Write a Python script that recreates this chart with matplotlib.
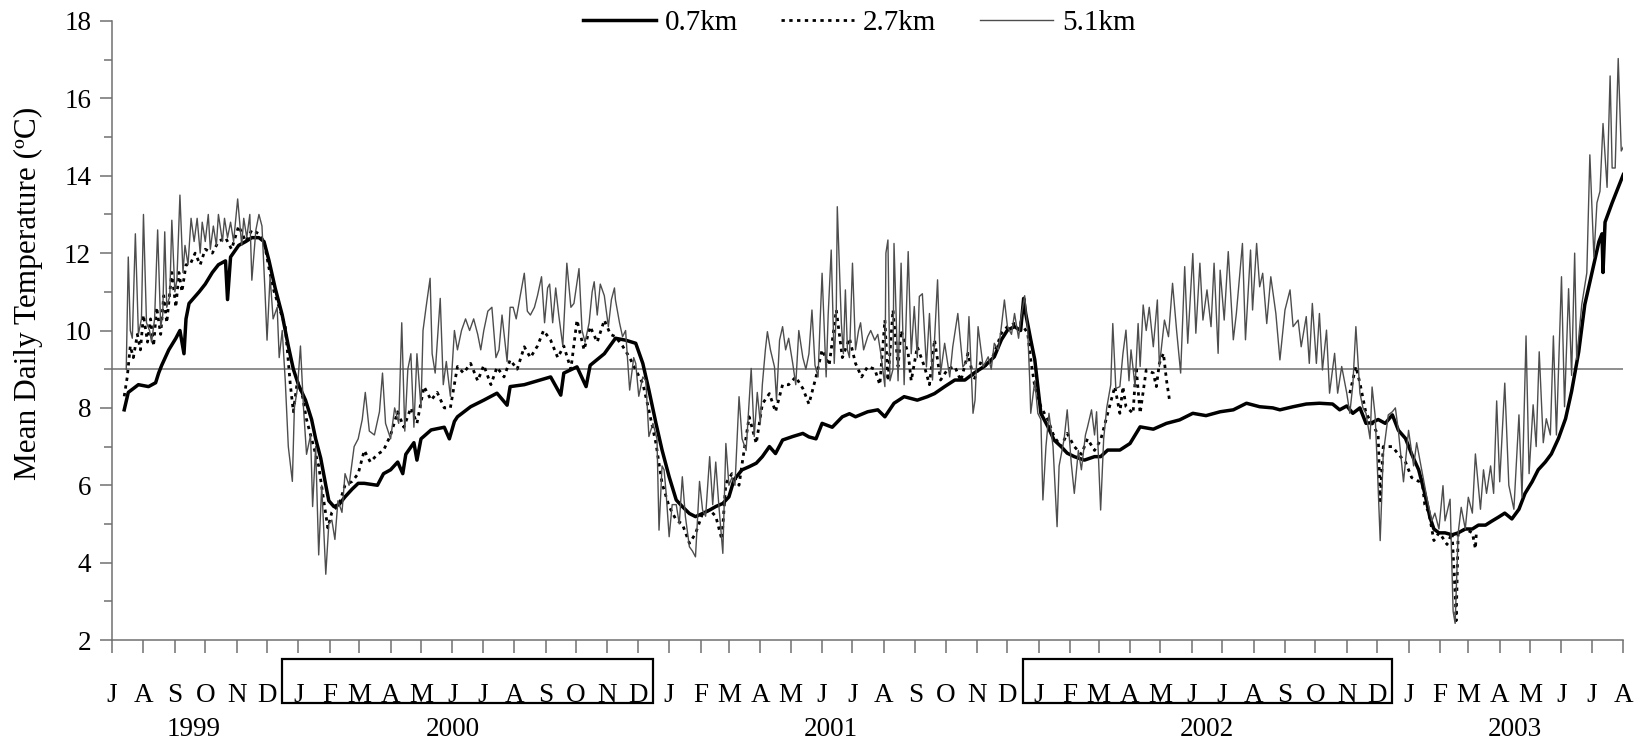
import numpy as np
import pandas as pd
import matplotlib
matplotlib.use("Agg")
import matplotlib.pyplot as plt
import matplotlib.dates as mdates
import matplotlib.transforms as mtransforms
from matplotlib.lines import Line2D
from matplotlib.patches import Rectangle

plt.rcParams["font.family"] = ["Liberation Serif", "DejaVu Serif"]

# days since 1 July 1999 and mean daily temperature (deg C) at each distance
day_07 = [12, 16, 26, 36, 43, 46, 49, 56, 63, 67, 71, 73, 76, 86, 92, 99, 105, 112, 114, 117,
          125, 132, 138, 145, 150, 155, 161, 168, 174, 179, 184, 191, 197, 201, 206, 211, 214, 219, 224, 230,
          237, 243, 249, 262, 268, 275, 282, 287, 290, 298, 301, 305, 315, 328, 333, 338, 341, 354, 367, 380,
          390, 393, 407, 420, 433, 443, 446, 459, 468, 472, 486, 497, 507, 517, 524, 530, 537, 543, 550, 557,
          563, 570, 576, 583, 590, 596, 603, 609, 614, 622, 629, 636, 642, 649, 655, 662, 672, 682, 688, 695,
          701, 711, 721, 728, 734, 746, 756, 763, 772, 782, 795, 805, 812, 822, 832, 842, 851, 861, 871, 878,
          884, 891, 897, 900, 902, 907, 911, 914, 917, 924, 930, 937, 943, 950, 960, 970, 976, 983, 995, 1005,
          1015, 1028, 1041, 1054, 1067, 1080, 1094, 1107, 1120, 1133, 1146, 1153, 1166, 1179, 1192, 1205, 1212, 1219, 1225, 1232,
          1238, 1244, 1250, 1257, 1264, 1270, 1277, 1283, 1290, 1296, 1301, 1305, 1310, 1316, 1323, 1329, 1336, 1343, 1349, 1356,
          1362, 1369, 1375, 1382, 1389, 1395, 1402, 1408, 1415, 1421, 1428, 1435, 1441, 1448, 1454, 1461, 1468, 1471, 1472, 1474,
          1481, 1487, 1492]
temp_07 = [7.95, 8.4, 8.6, 8.55, 8.65, 8.9, 9.1, 9.5, 9.8, 10.0, 9.4, 10.3, 10.7, 11.0, 11.2, 11.5, 11.7, 11.8, 10.8, 11.9,
           12.2, 12.3, 12.4, 12.4, 12.3, 11.8, 11.1, 10.4, 9.6, 9.0, 8.6, 8.2, 7.7, 7.2, 6.7, 6.0, 5.6, 5.45, 5.5, 5.7,
           5.9, 6.05, 6.05, 6.0, 6.3, 6.4, 6.6, 6.3, 6.8, 7.1, 6.65, 7.2, 7.43, 7.5, 7.2, 7.65, 7.77, 8.03, 8.2, 8.38,
           8.07, 8.55, 8.6, 8.7, 8.8, 8.33, 8.9, 9.06, 8.55, 9.1, 9.4, 9.8, 9.75, 9.67, 9.15, 8.46, 7.6, 6.91, 6.22, 5.62,
           5.45, 5.27, 5.19, 5.27, 5.36, 5.45, 5.53, 5.7, 6.14, 6.4, 6.48, 6.57, 6.74, 7.0, 6.82, 7.17, 7.26, 7.34, 7.25, 7.2,
           7.6, 7.5, 7.77, 7.85, 7.77, 7.9, 7.95, 7.77, 8.12, 8.29, 8.2, 8.29, 8.37, 8.55, 8.72, 8.72, 8.9, 9.07, 9.32, 9.76,
           10.01, 10.1, 10.0, 10.83, 10.44, 9.76, 9.24, 8.55, 7.86, 7.51, 7.17, 7.0, 6.83, 6.74, 6.65, 6.74, 6.74, 6.91, 6.91, 7.08,
           7.51, 7.45, 7.6, 7.69, 7.86, 7.8, 7.9, 7.95, 8.12, 8.03, 8.0, 7.95, 8.03, 8.1, 8.12, 8.1, 7.95, 8.05, 7.86, 8.0,
           7.6, 7.62, 7.7, 7.6, 7.82, 7.42, 7.21, 6.81, 6.4, 5.79, 5.18, 4.87, 4.77, 4.77, 4.72, 4.77, 4.87, 4.87, 4.97, 4.97,
           5.07, 5.18, 5.28, 5.13, 5.38, 5.79, 6.09, 6.4, 6.6, 6.81, 7.21, 7.72, 8.43, 9.45, 10.67, 11.49, 12.3, 12.5, 11.5, 12.8,
           13.3, 13.7, 14.03]

day_27 = [12, 15, 18, 21, 25, 28, 31, 35, 38, 41, 44, 48, 51, 54, 59, 63, 66, 69, 73, 77,
          82, 87, 92, 99, 105, 112, 118, 125, 132, 138, 145, 150, 155, 160, 165, 171, 176, 179, 183, 188,
          192, 197, 204, 209, 213, 217, 224, 230, 237, 243, 249, 255, 262, 268, 275, 282, 288, 295, 301, 308,
          315, 321, 328, 334, 341, 347, 354, 361, 367, 374, 380, 387, 393, 400, 407, 413, 420, 426, 433, 440,
          446, 453, 459, 466, 472, 479, 486, 492, 497, 504, 511, 517, 524, 530, 537, 543, 550, 557, 563, 570,
          576, 583, 590, 596, 602, 606, 612, 619, 622, 629, 636, 642, 649, 655, 662, 668, 675, 682, 688, 695,
          701, 708, 715, 721, 728, 734, 740, 746, 753, 758, 763, 766, 771, 776, 779, 786, 789, 795, 802, 807,
          812, 818, 825, 832, 838, 845, 851, 858, 865, 871, 878, 884, 891, 897, 904, 907, 911, 914, 917, 924,
          930, 937, 943, 950, 957, 963, 970, 976, 983, 990, 995, 998, 1001, 1008, 1011, 1015, 1021, 1028, 1031, 1034,
          1038, 1041, 1044, 1100, 1222, 1228, 1232, 1238, 1244, 1250, 1252, 1255, 1264, 1270, 1277, 1283, 1290, 1293, 1296, 1300,
          1305, 1310, 1313, 1318, 1323, 1326, 1327, 1329, 1336, 1343, 1346, 1347]
temp_27 = [8.3, 8.8, 9.6, 9.3, 9.9, 9.5, 10.4, 9.7, 10.3, 9.6, 10.6, 9.9, 10.9, 10.2, 11.5, 10.6, 11.5, 11.0, 11.7, 11.7,
           12.0, 11.7, 12.1, 12.0, 12.3, 12.4, 12.1, 12.7, 12.3, 12.6, 12.5, 12.3, 11.6, 11.0, 10.6, 10.1, 8.6, 7.9, 8.7, 8.3,
           7.7, 7.2, 6.5, 5.6, 4.9, 5.3, 5.5, 6.0, 6.1, 6.3, 6.9, 6.6, 6.8, 6.9, 7.3, 7.9, 7.5, 8.0, 7.6, 8.55,
           8.2, 8.4, 8.0, 8.0, 9.07, 8.9, 9.15, 8.7, 9.1, 8.6, 9.05, 8.8, 9.24, 9.0, 9.58, 9.3, 9.6, 10.0, 9.75, 9.3,
           9.6, 9.0, 10.27, 9.5, 10.1, 9.7, 10.27, 9.9, 9.84, 9.6, 9.3, 8.98, 8.63, 7.94, 7.08, 6.05, 5.45, 5.1, 5.0, 4.5,
           4.75, 5.27, 5.36, 5.2, 4.6, 6.05, 6.3, 6.0, 6.55, 7.77, 7.08, 8.1, 8.37, 7.9, 8.6, 8.6, 8.8, 8.5, 8.1, 8.8,
           9.5, 9.1, 10.53, 9.3, 9.8, 9.15, 8.8, 9.07, 9.0, 8.6, 10.27, 8.7, 10.53, 9.07, 10.0, 9.4, 8.7, 9.58, 9.07, 8.6,
           9.76, 8.72, 9.0, 9.07, 8.7, 9.41, 8.72, 9.2, 9.07, 9.41, 9.93, 10.1, 10.18, 10.2, 9.93, 9.24, 8.55, 8.3, 8.03, 7.69,
           7.26, 7.0, 7.34, 7.0, 6.8, 7.2, 6.9, 7.17, 7.86, 8.55, 7.86, 8.55, 8.03, 7.86, 9.07, 7.86, 8.98, 8.9, 8.55, 9.15,
           9.41, 8.72, 8.2, np.nan, 8.38, 9.07, 8.64, 7.86, 7.6, 7.3, 5.6, 7.0, 7.0, 6.8, 6.6, 6.2, 6.1, 6.2, 5.5, 5.3,
           4.57, 4.77, 4.67, 4.47, 4.77, 3.2, 2.5, 4.77, 4.87, 4.77, 4.36, 4.8]

day_51 = [14, 16, 18, 20, 23, 26, 29, 31, 34, 37, 39, 42, 45, 48, 50, 52, 54, 57, 59, 62,
          64, 67, 70, 72, 75, 78, 81, 84, 87, 89, 92, 95, 97, 100, 103, 105, 109, 111, 114, 117,
          120, 124, 128, 130, 133, 136, 138, 142, 145, 148, 151, 153, 156, 159, 163, 165, 168, 171, 174, 178,
          180, 183, 186, 189, 192, 196, 198, 201, 204, 207, 211, 214, 217, 220, 223, 227, 230, 234, 239, 243,
          247, 250, 254, 259, 264, 267, 270, 275, 279, 283, 286, 289, 292, 295, 298, 301, 305, 307, 310, 314,
          316, 319, 324, 327, 330, 334, 338, 341, 345, 349, 353, 357, 361, 364, 367, 371, 375, 379, 382, 385,
          390, 393, 396, 399, 403, 407, 410, 413, 417, 420, 424, 427, 430, 432, 435, 438, 441, 445, 449, 453,
          456, 461, 464, 467, 471, 474, 476, 479, 482, 486, 490, 493, 496, 497, 501, 504, 507, 511, 515, 517,
          520, 524, 527, 530, 534, 538, 540, 543, 545, 547, 550, 553, 557, 560, 563, 566, 570, 573, 576, 580,
          583, 586, 590, 593, 596, 599, 603, 606, 609, 612, 615, 619, 622, 626, 631, 634, 637, 640, 642, 645,
          647, 650, 654, 656, 659, 662, 665, 668, 672, 675, 678, 682, 685, 688, 691, 694, 697, 699, 701, 705,
          707, 710, 713, 715, 716, 720, 722, 724, 726, 728, 731, 734, 737, 739, 742, 746, 749, 753, 756, 759,
          763, 764, 766, 768, 771, 772, 776, 779, 782, 786, 789, 792, 795, 797, 800, 804, 807, 810, 815, 818,
          822, 827, 830, 835, 840, 844, 846, 850, 852, 855, 860, 865, 868, 871, 875, 878, 881, 884, 888, 891,
          895, 897, 901, 904, 906, 907, 911, 914, 917, 919, 922, 925, 929, 933, 935, 940, 943, 947, 950, 954,
          957, 961, 963, 967, 970, 972, 976, 979, 982, 986, 988, 991, 995, 998, 1001, 1004, 1006, 1010, 1013, 1015,
          1018, 1021, 1024, 1028, 1032, 1034, 1039, 1043, 1047, 1051, 1055, 1059, 1062, 1067, 1070, 1074, 1077, 1081, 1085, 1088,
          1092, 1094, 1098, 1102, 1107, 1110, 1116, 1119, 1124, 1126, 1130, 1133, 1136, 1140, 1144, 1149, 1153, 1158, 1163, 1166,
          1171, 1174, 1179, 1182, 1185, 1189, 1192, 1195, 1199, 1202, 1207, 1210, 1214, 1219, 1222, 1225, 1228, 1232, 1235, 1238,
          1242, 1244, 1247, 1249, 1252, 1255, 1260, 1264, 1267, 1270, 1275, 1280, 1285, 1288, 1293, 1298, 1303, 1306, 1310, 1314,
          1316, 1321, 1324, 1326, 1329, 1332, 1336, 1339, 1343, 1346, 1351, 1354, 1357, 1361, 1364, 1367, 1370, 1375, 1379, 1384,
          1389, 1392, 1396, 1399, 1403, 1406, 1409, 1413, 1416, 1420, 1423, 1426, 1431, 1434, 1438, 1441, 1444, 1446, 1451, 1456,
          1459, 1463, 1466, 1469, 1472, 1476, 1479, 1481, 1484, 1487, 1490, 1492]
temp_51 = [9.0, 11.9, 10.0, 9.8, 12.5, 9.9, 10.3, 13.0, 10.2, 10.0, 9.7, 10.3, 12.6, 10.1, 10.4, 12.55, 10.6, 10.9, 12.85, 11.0,
           11.3, 13.5, 11.5, 12.2, 11.7, 12.9, 12.3, 12.9, 12.0, 12.8, 12.3, 13.0, 12.1, 12.7, 12.2, 13.0, 12.3, 12.9, 12.4, 12.8,
           12.3, 13.4, 12.2, 12.9, 12.4, 13.0, 11.3, 12.6, 13.0, 12.7, 11.0, 9.75, 11.4, 10.3, 10.6, 9.3, 10.0, 8.7, 7.0, 6.1,
           8.0, 8.5, 9.6, 8.0, 6.8, 7.3, 5.45, 7.0, 4.2, 6.0, 3.7, 5.0, 5.1, 4.6, 5.6, 5.3, 6.3, 6.0, 7.0, 7.2,
           7.7, 8.4, 7.4, 7.3, 7.9, 8.9, 7.6, 7.2, 8.0, 7.6, 10.2, 7.4, 9.0, 9.4, 7.5, 9.4, 8.0, 10.0, 10.6, 11.35,
           9.4, 8.9, 10.83, 8.6, 9.2, 8.3, 10.0, 9.5, 10.0, 10.3, 10.0, 10.3, 9.9, 9.5, 10.0, 10.5, 10.6, 9.3, 9.5, 10.4,
           9.2, 10.6, 10.6, 10.3, 10.9, 11.48, 10.5, 10.4, 10.6, 10.9, 11.39, 10.2, 11.1, 11.2, 10.2, 11.1, 10.4, 9.6, 11.74, 10.6,
           10.7, 11.6, 10.0, 9.7, 10.2, 11.0, 11.26, 10.4, 11.2, 10.9, 10.1, 10.8, 11.1, 10.79, 10.2, 9.84, 10.0, 8.46, 9.3, 9.15,
           8.3, 8.8, 8.7, 7.26, 7.6, 7.2, 4.84, 6.5, 6.4, 5.8, 4.67, 5.5, 5.5, 5.0, 6.22, 5.2, 4.41, 4.3, 4.15, 6.1,
           5.36, 5.2, 6.74, 5.5, 6.6, 5.5, 4.24, 7.08, 6.0, 6.2, 6.0, 8.29, 7.2, 6.9, 9.02, 7.26, 8.4, 7.6, 8.6, 9.5,
           9.97, 9.5, 9.06, 8.2, 9.75, 10.1, 9.5, 9.8, 9.15, 8.6, 10.0, 9.3, 9.0, 9.4, 10.53, 9.1, 8.8, 10.2, 11.48, 8.8,
           10.4, 12.08, 9.15, 10.5, 13.2, 10.2, 9.4, 11.05, 9.5, 9.3, 11.74, 9.5, 10.0, 10.2, 9.5, 9.84, 10.0, 9.75, 9.9, 9.4,
           8.55, 12.0, 12.34, 8.7, 9.0, 12.25, 8.7, 11.74, 8.6, 12.04, 9.4, 10.62, 9.3, 10.88, 10.95, 9.06, 10.44, 8.72, 11.31, 8.9,
           9.67, 8.8, 9.58, 10.44, 9.06, 9.2, 10.36, 7.86, 8.2, 10.1, 9.06, 9.32, 9.0, 9.67, 9.5, 10.1, 10.79, 10.1, 9.9, 10.44,
           9.8, 10.27, 10.9, 10.0, 8.7, 7.86, 8.7, 7.86, 7.7, 5.62, 7.0, 7.86, 7.0, 4.93, 6.5, 7.2, 7.95, 6.57, 5.79, 6.9,
           6.4, 7.3, 7.5, 7.95, 7.3, 7.9, 5.36, 7.2, 8.0, 8.6, 10.18, 8.5, 8.55, 9.4, 10.01, 8.7, 9.5, 8.55, 10.18, 9.07,
           10.66, 10.0, 10.6, 9.58, 10.79, 9.07, 10.27, 9.84, 11.22, 10.0, 8.9, 11.65, 9.67, 11.99, 9.93, 11.74, 10.27, 11.05, 10.1, 11.74,
           9.41, 11.56, 10.27, 12.04, 9.76, 10.44, 12.25, 9.76, 12.08, 10.53, 12.25, 11.13, 11.48, 10.18, 11.39, 10.44, 9.24, 10.53, 11.05, 10.1,
           10.27, 9.58, 10.36, 9.15, 10.7, 9.15, 10.44, 8.98, 10.01, 8.38, 9.41, 8.38, 9.07, 8.38, 7.86, 8.6, 10.1, 8.38, 8.0, 7.86,
           7.2, 8.54, 7.8, 6.6, 4.57, 6.8, 7.82, 7.9, 8.0, 7.4, 6.09, 7.42, 6.5, 7.1, 6.4, 5.69, 5.08, 5.28, 4.87, 5.99,
           5.08, 5.64, 2.74, 2.43, 4.77, 5.43, 4.87, 5.69, 5.28, 6.81, 5.38, 6.4, 5.79, 6.5, 5.79, 8.18, 6.09, 8.64, 6.0, 5.38,
           7.82, 5.69, 9.86, 6.3, 8.08, 7.0, 9.45, 7.1, 7.72, 7.3, 9.86, 7.3, 11.39, 8.03, 11.08, 8.84, 12.0, 9.25, 10.67, 11.49,
           14.54, 11.9, 13.3, 13.6, 15.35, 13.7, 16.58, 14.2, 14.2, 17.03, 14.64, 14.74]

series_labels = ["0.7km", "2.7km", "5.1km"]
year_labels = ["1999", "2000", "2001", "2002", "2003"]
year_label_dates = ["1999-09-20", "2000-06-01", "2001-06-10", "2002-06-16", "2003-04-16"]
boxed_years = [2000, 2002]

start = pd.Timestamp("1999-07-01")


def to_dates(days):
    return start + pd.to_timedelta(np.asarray(days, dtype=float), unit="D")


fig = plt.figure(figsize=(16.48, 7.47), dpi=100)
ax = fig.add_axes([0.068, 0.1432, 0.917, 0.8287])

dotted = (0, (1.2, 1.6))
ax.axhline(9, color="#707070", lw=1.1, zorder=1)
ax.plot(to_dates(day_07), temp_07, color="black", lw=2.5, zorder=3)
ax.plot(to_dates(day_27), temp_27, color="black", lw=2.0, linestyle=dotted, zorder=4)
ax.plot(to_dates(day_51), temp_51, color="#4d4d4d", lw=1.0, zorder=5)

ax.set_ylim(2, 18)
ax.set_yticks(np.arange(2, 19, 2))
ax.set_yticks(np.arange(3, 18, 2), minor=True)
month_starts = pd.date_range("1999-07-01", "2003-08-01", freq="MS")
ax.set_xlim(month_starts[0], month_starts[-1])
ax.set_xticks(month_starts)
ax.set_xticklabels([d.strftime("%b")[0] for d in month_starts])

for side in ["top", "right"]:
    ax.spines[side].set_visible(False)
for side in ["left", "bottom"]:
    ax.spines[side].set_color("#707070")
    ax.spines[side].set_linewidth(1.1)

ax.tick_params(axis="y", which="major", length=9, width=1.1, color="#707070", labelsize=19.5, pad=6)
ax.tick_params(axis="y", which="minor", length=6, width=1.1, color="#707070")
ax.tick_params(axis="x", which="major", length=9, width=1.1, color="#707070", labelsize=19.5, pad=22)

ax.set_ylabel("Mean Daily Temperature (ºC)", fontsize=22.5)
ax.yaxis.set_label_coords(-0.046, 0.56)

# year captions under the month letters, boxes round 2000 and 2002
trans = mtransforms.blended_transform_factory(ax.transData, ax.transAxes)
for label, d in zip(year_labels, year_label_dates):
    ax.text(pd.Timestamp(d), -0.145, label, transform=trans, ha="center", va="center", fontsize=19.5)
for yr in boxed_years:
    rx0 = mdates.date2num(pd.Timestamp(f"{yr - 1}-12-16"))
    rx1 = mdates.date2num(pd.Timestamp(f"{yr}-12-16"))
    ax.add_patch(Rectangle((rx0, -0.1018), rx1 - rx0, 0.0711, transform=trans,
                           fill=False, edgecolor="black", lw=1.6, clip_on=False))

handles = [Line2D([], [], color="black", lw=2.5),
           Line2D([], [], color="black", lw=2.0, linestyle=dotted),
           Line2D([], [], color="#4d4d4d", lw=1.0)]
fig.legend(handles, series_labels, loc="center", bbox_to_anchor=(859 / 1648, 1 - 23 / 747),
           ncol=3, frameon=False, fontsize=21, handlelength=2.5, handletextpad=0.3,
           columnspacing=1.5, borderpad=0)

fig.savefig("out.png", dpi=100)
